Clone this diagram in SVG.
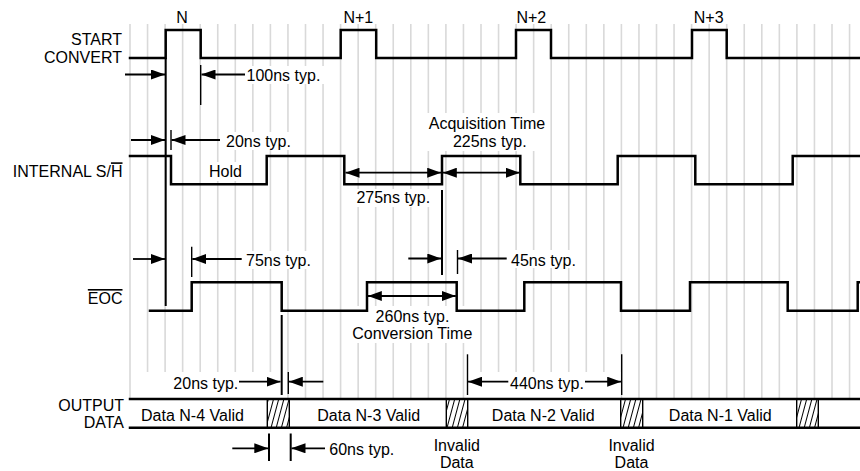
<svg xmlns="http://www.w3.org/2000/svg" width="860" height="471" viewBox="0 0 860 471">
<style>
text{font-family:"Liberation Sans",Arial,Helvetica,sans-serif;font-size:16px;fill:#000}
.m{text-anchor:middle}.e{text-anchor:end}
.grid{stroke:#d9d9d9;stroke-width:1.6;fill:none}
.sig{stroke:#000;stroke-width:2.5;fill:none;stroke-linejoin:miter;stroke-linecap:square}
.mk{stroke:#000;stroke-width:2;fill:none}
.tk{stroke:#000;stroke-width:1.4;fill:none}
.ar{stroke:#000;stroke-width:1.8;fill:none;marker-end:url(#ah)}
.dar{stroke:#000;stroke-width:1.8;fill:none;marker-end:url(#ah);marker-start:url(#as)}
.bg{fill:#fff}
.hatch{fill:url(#hp);stroke:#000;stroke-width:1.4}
</style>
<defs>
<marker id="ah" markerUnits="userSpaceOnUse" markerWidth="14" markerHeight="10" viewBox="0 0 14 10" refX="14" refY="5" orient="auto"><path d="M0,0 L14,5 L0,10 z" fill="#000"/></marker>
<marker id="as" markerUnits="userSpaceOnUse" markerWidth="14" markerHeight="10" viewBox="0 0 14 10" refX="0" refY="5" orient="auto"><path d="M14,0 L0,5 L14,10 z" fill="#000"/></marker>
<pattern id="hp" patternUnits="userSpaceOnUse" width="5" height="10" patternTransform="rotate(15)"><line x1="2.5" y1="-1" x2="2.5" y2="11" stroke="#000" stroke-width="1"/></pattern>
</defs>
<rect width="860" height="471" fill="#fff"/>
<g id="grid">
<path class="grid" d="M130,24V398M147.55,24V398M165.1,24V398M182.65,24V398M200.2,24V398M217.75,24V398M235.3,24V398M252.85,24V398M270.4,24V398M287.95,24V398M305.5,24V398M323.05,24V398M340.6,24V398M358.15,24V398M375.7,24V398M393.25,24V398M410.8,24V398M428.35,24V398M445.9,24V398M463.45,24V398M481,24V398M498.55,24V398M516.1,24V398M533.65,24V398M551.2,24V398M568.75,24V398M586.3,24V398M603.85,24V398M621.4,24V398M638.95,24V398M656.5,24V398M674.05,24V398M691.6,24V398M709.15,24V398M726.7,24V398M744.25,24V398M761.8,24V398M779.35,24V398M796.9,24V398M814.45,24V398M832,24V398M849.55,24V398"/>
</g>
<g id="label-backgrounds">
<rect class="bg" x="244" y="66" width="80" height="18"/>
<rect class="bg" x="224" y="132" width="70" height="18"/>
<rect class="bg" x="206" y="162" width="39" height="19"/>
<rect class="bg" x="424" y="113" width="126" height="38"/>
<rect class="bg" x="353" y="189" width="81" height="18"/>
<rect class="bg" x="244" y="251" width="70" height="18"/>
<rect class="bg" x="509" y="250" width="70" height="18"/>
<rect class="bg" x="348" y="306" width="129" height="37"/>
<rect class="bg" x="145" y="372" width="136" height="26"/>
<rect class="bg" x="468.5" y="372" width="152" height="26"/>
</g>
<g id="start-convert">
<text class="e" x="122" y="45">START</text>
<text class="e" x="122" y="63.3">CONVERT</text>
<path class="sig" d="M130,58H165.7V30H200.7V58H340.7V30H376.2V58H516V30H551V58H692V30H726.7V58H860"/>
<text class="m" x="182" y="22.7">N</text>
<text class="m" x="358.3" y="22.7">N+1</text>
<text class="m" x="531.3" y="22.7">N+2</text>
<text class="m" x="708.7" y="22.7">N+3</text>
</g>
<g id="internal-sh">
<text class="e" x="122.5" y="177.3">INTERNAL S/<tspan text-decoration="overline">H</tspan></text>
<path class="sig" d="M130,156H171V184.3H266.7V156H344.3V184.3H442V156H520.3V184.3H617.7V156H695.3V184.3H792.7V156H860"/>
<text class="m" x="225.5" y="177">Hold</text>
</g>
<g id="eoc">
<text class="e" x="122.5" y="304"><tspan text-decoration="overline">EOC</tspan></text>
<path class="sig" d="M150,310.7H191.7V282.3H281.7V310.7H367V282.3H456.7V310.7H524.3V282.3H621V310.7H690V282.3H787.7V310.7H857.7V282.3H862"/>
</g>
<g id="output-data">
<text class="e" x="124" y="411">OUTPUT</text>
<text class="e" x="124" y="428.3">DATA</text>
<rect class="hatch" x="267.3" y="399" width="22" height="28.7"/>
<rect class="hatch" x="446.3" y="399" width="21.4" height="28.7"/>
<rect class="hatch" x="620.7" y="399" width="22" height="28.7"/>
<rect class="hatch" x="796.7" y="399" width="21.6" height="28.7"/>
<path class="sig" d="M130,399H860M130,427.7H860"/>
<text class="m" x="192.5" y="420.5">Data N-4 Valid</text>
<text class="m" x="368.7" y="420.5">Data N-3 Valid</text>
<text class="m" x="543.3" y="420.5">Data N-2 Valid</text>
<text class="m" x="720.3" y="420.5">Data N-1 Valid</text>
<text class="m" x="456.8" y="450.5">Invalid</text>
<text class="m" x="456.8" y="467.5">Data</text>
<text class="m" x="631.5" y="450.5">Invalid</text>
<text class="m" x="631.5" y="467.5">Data</text>
</g>
<g id="connectors">
<path class="mk" d="M165.7,58V306"/>
<path class="tk" d="M200.7,65V105"/>
<path class="ar" d="M125,74.5H165"/>
<path class="ar" d="M245,74.5H201.5"/>
<path class="tk" d="M171,130V150"/>
<path class="ar" d="M131,140H165"/>
<path class="ar" d="M220,140H171.5"/>
<path class="dar" d="M345.5,172.7H441.2"/>
<path class="dar" d="M442.8,172.7H519.8"/>
<path class="mk" d="M442,190V275"/>
<path class="tk" d="M191.7,246.7V277"/>
<path class="ar" d="M133,259H165"/>
<path class="ar" d="M241.7,259H192.3"/>
<path class="ar" d="M408.3,258.5H441.3"/>
<path class="tk" d="M457.5,250V274"/>
<path class="ar" d="M506.7,258.5H458"/>
<path class="dar" d="M367.8,296H455.8"/>
<path class="mk" d="M281.7,315V395"/>
<path class="ar" d="M239,381.7H280.5"/>
<path class="tk" d="M288.3,372V394"/>
<path class="ar" d="M323.3,381.7H288.8"/>
<path class="tk" d="M467.5,354.3V395"/>
<path class="ar" d="M508.3,381.7H468"/>
<path class="ar" d="M585,381.7H621.2"/>
<path class="tk" d="M621.7,354.3V395"/>
<path class="mk" d="M269,433.5V461M290.7,433.5V461"/>
<path class="ar" d="M232.3,448.3H268.3"/>
<path class="ar" d="M325,448.3H291.5"/>
</g>
<g id="dimension-labels">
<text x="246.5" y="80.5">100ns typ.</text>
<text x="226" y="146.5">20ns typ.</text>
<text class="m" x="487" y="129.3">Acquisition Time</text>
<text class="m" x="489.8" y="146.7">225ns typ.</text>
<text class="m" x="393.3" y="203.3">275ns typ.</text>
<text x="246" y="265.5">75ns typ.</text>
<text x="511" y="265.5">45ns typ.</text>
<text class="m" x="412.5" y="321.7">260ns typ.</text>
<text class="m" x="412.3" y="339">Conversion Time</text>
<text class="e" x="238.3" y="389">20ns typ.</text>
<text x="510" y="389">440ns typ.</text>
<text x="329.3" y="455">60ns typ.</text>
</g>
</svg>
